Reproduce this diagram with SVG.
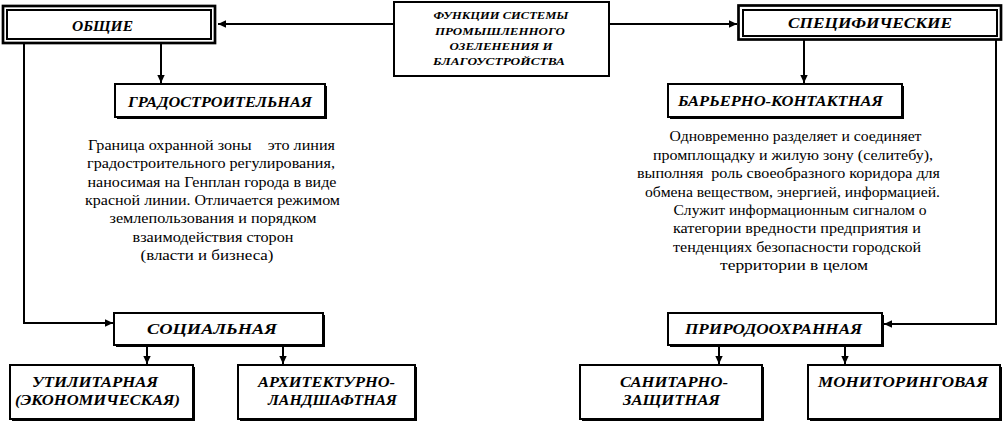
<svg xmlns="http://www.w3.org/2000/svg" width="1004" height="422" viewBox="0 0 1004 422">
<style>
.box{fill:#fff;stroke:#000;stroke-width:2}
.sh{fill:#000}
.outer{fill:#fff;stroke:#000;stroke-width:2.7}
.inner{fill:none;stroke:#000;stroke-width:2}
.h{font-family:"Liberation Serif","DejaVu Serif",serif;font-weight:bold;font-style:italic;font-size:14px;text-anchor:middle;fill:#000}
.c{font-family:"Liberation Serif","DejaVu Serif",serif;font-weight:bold;font-style:italic;font-size:11px;text-anchor:middle;fill:#000}
.p{font-family:"Liberation Serif","DejaVu Serif",serif;font-size:14.5px;text-anchor:middle;fill:#000;white-space:pre}
.ln{fill:none;stroke:#000;stroke-width:2;marker-end:url(#ah)}
</style>
<defs>
<marker id="ah" markerUnits="userSpaceOnUse" markerWidth="9" markerHeight="9" refX="8" refY="4.5" orient="auto">
<path d="M0,0.8 L8,4.5 L0,8.2 z" fill="#000"/>
</marker>
</defs>
<rect width="1004" height="422" fill="#fff"/>
<g id="connectors">
<path class="ln" d="M394,24 H218"/>
<path class="ln" d="M609,24 H737"/>
<path class="ln" d="M161,44 V83"/>
<path class="ln" d="M24,44 V323 H113"/>
<path class="ln" d="M804,40 V83"/>
<path class="ln" d="M996,40 V324 H884"/>
<path class="ln" d="M147,345 V364"/>
<path class="ln" d="M283,345 V364"/>
<path class="ln" d="M719,345 V364"/>
<path class="ln" d="M845,345 V364"/>
</g>
<g id="center">
<rect class="box" x="394" y="2" width="215" height="74"/>
<text class="c" x="501" y="18.5" textLength="135" lengthAdjust="spacingAndGlyphs">ФУНКЦИИ СИСТЕМЫ</text>
<text class="c" x="500" y="34.5" textLength="130" lengthAdjust="spacingAndGlyphs">ПРОМЫШЛЕННОГО</text>
<text class="c" x="501" y="50" textLength="103" lengthAdjust="spacingAndGlyphs">ОЗЕЛЕНЕНИЯ И</text>
<text class="c" x="499" y="65" textLength="132" lengthAdjust="spacingAndGlyphs">БЛАГОУСТРОЙСТВА</text>
</g>
<g id="obshchie">
<rect class="outer" x="3" y="6" width="212" height="37"/>
<rect class="inner" x="7" y="10" width="204" height="29"/>
<text class="h" x="102.5" y="31" textLength="61" lengthAdjust="spacingAndGlyphs">ОБЩИЕ</text>
</g>
<g id="specificheskie">
<rect class="outer" x="738.5" y="5.5" width="262.5" height="34"/>
<rect class="inner" x="743" y="10" width="254" height="26"/>
<text class="h" x="870" y="27.5" textLength="164" lengthAdjust="spacingAndGlyphs">СПЕЦИФИЧЕСКИЕ</text>
</g>
<g id="gradostroitelnaya">
<rect class="sh" x="117" y="86" width="210" height="33"/>
<rect class="box" x="115" y="84" width="210" height="33"/>
<text class="h" x="220" y="106.5" textLength="184" lengthAdjust="spacingAndGlyphs">ГРАДОСТРОИТЕЛЬНАЯ</text>
</g>
<g id="barerno">
<rect class="sh" x="670" y="86" width="234" height="33"/>
<rect class="box" x="668" y="84" width="234" height="33"/>
<text class="h" x="780.5" y="105.5" textLength="205" lengthAdjust="spacingAndGlyphs">БАРЬЕРНО-КОНТАКТНАЯ</text>
</g>
<g id="text-left">
<text class="p" x="211.5" y="150" textLength="247" lengthAdjust="spacingAndGlyphs">Граница охранной зоны    это линия</text>
<text class="p" x="211" y="168.3" textLength="248" lengthAdjust="spacingAndGlyphs">градостроительного регулирования,</text>
<text class="p" x="212" y="186.6" textLength="249" lengthAdjust="spacingAndGlyphs">наносимая на Генплан города в виде</text>
<text class="p" x="212.5" y="205" textLength="255" lengthAdjust="spacingAndGlyphs">красной линии. Отличается режимом</text>
<text class="p" x="213" y="223" textLength="207" lengthAdjust="spacingAndGlyphs">землепользования и порядком</text>
<text class="p" x="213" y="241.5" textLength="161" lengthAdjust="spacingAndGlyphs">взаимодействия сторон</text>
<text class="p" x="207" y="259.5" textLength="133" lengthAdjust="spacingAndGlyphs">(власти и бизнеса)</text>
</g>
<g id="text-right">
<text class="p" x="795.5" y="141" textLength="252" lengthAdjust="spacingAndGlyphs">Одновременно разделяет и соединяет</text>
<text class="p" x="793" y="159.5" textLength="280" lengthAdjust="spacingAndGlyphs">промплощадку и жилую зону (селитебу),</text>
<text class="p" x="788.5" y="178" textLength="303" lengthAdjust="spacingAndGlyphs">выполняя  роль своеобразного коридора для</text>
<text class="p" x="792.5" y="196.5" textLength="295" lengthAdjust="spacingAndGlyphs">обмена веществом, энергией, информацией.</text>
<text class="p" x="800" y="215" textLength="253" lengthAdjust="spacingAndGlyphs">Служит информационным сигналом о</text>
<text class="p" x="797" y="233" textLength="248" lengthAdjust="spacingAndGlyphs">категории вредности предприятия и</text>
<text class="p" x="797" y="251.5" textLength="248" lengthAdjust="spacingAndGlyphs">тенденциях безопасности городской</text>
<text class="p" x="794" y="270" textLength="148" lengthAdjust="spacingAndGlyphs">территории в целом</text>
</g>
<g id="socialnaya">
<rect class="sh" x="116" y="315" width="209" height="32"/>
<rect class="box" x="114" y="313" width="209" height="32"/>
<text class="h" x="212" y="333.5" textLength="130" lengthAdjust="spacingAndGlyphs">СОЦИАЛЬНАЯ</text>
</g>
<g id="prirodoohrannaya">
<rect class="sh" x="670" y="315" width="214" height="32"/>
<rect class="box" x="668" y="313" width="214" height="32"/>
<text class="h" x="773.5" y="333.5" textLength="177" lengthAdjust="spacingAndGlyphs">ПРИРОДООХРАННАЯ</text>
</g>
<g id="utilitarnaya">
<rect class="sh" x="12" y="367" width="183" height="54"/>
<rect class="box" x="10" y="365" width="183" height="54"/>
<text class="h" x="95" y="386.5" textLength="126" lengthAdjust="spacingAndGlyphs">УТИЛИТАРНАЯ</text>
<text class="h" x="97.5" y="404.5" textLength="165" lengthAdjust="spacingAndGlyphs">(ЭКОНОМИЧЕСКАЯ)</text>
</g>
<g id="arhitekturno">
<rect class="sh" x="240" y="367" width="177" height="54"/>
<rect class="box" x="238" y="365" width="177" height="54"/>
<text class="h" x="326.5" y="386.5" textLength="137" lengthAdjust="spacingAndGlyphs">АРХИТЕКТУРНО-</text>
<text class="h" x="332.5" y="404.5" textLength="129" lengthAdjust="spacingAndGlyphs">ЛАНДШАФТНАЯ</text>
</g>
<g id="sanitarno">
<rect class="sh" x="582" y="367" width="182" height="54"/>
<rect class="box" x="580" y="365" width="182" height="54"/>
<text class="h" x="674" y="386.5" textLength="108" lengthAdjust="spacingAndGlyphs">САНИТАРНО-</text>
<text class="h" x="671.5" y="404.5" textLength="97" lengthAdjust="spacingAndGlyphs">ЗАЩИТНАЯ</text>
</g>
<g id="monitoringovaya">
<rect class="sh" x="810" y="367" width="192" height="54"/>
<rect class="box" x="808" y="365" width="192" height="54"/>
<text class="h" x="903" y="386.5" textLength="170" lengthAdjust="spacingAndGlyphs">МОНИТОРИНГОВАЯ</text>
</g>
</svg>
